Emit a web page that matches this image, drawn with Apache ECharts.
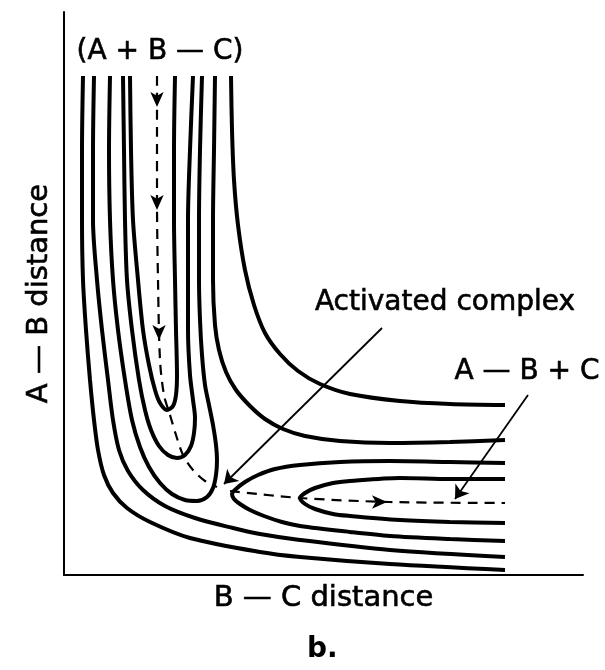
<!DOCTYPE html>
<html>
<head>
<meta charset="utf-8">
<title>A + B—C reaction surface</title>
<script src="https://cdn.jsdelivr.net/npm/echarts@6/dist/echarts.min.js"></script>
<style>
  html, body { margin: 0; padding: 0; background: #fff; }
  #chart { width: 605px; height: 670px; }
</style>
</head>
<body>
<div id="chart"></div>
<script>
// axis ranges (B—C distance, A—B distance), arbitrary units
const xMax = 519;
const yMax = 563;

// contour lines, points are [B—C distance, A—B distance]
// two outer contours that run from the top round to the right
const contourOuter = [[19,499],[18,425],[18,355],[19,295],[22,245],[26,195],[30,155],[34,125],[40,100],[49,82],[63,67],[86,53],[126,37],[196,23],[236,18],[326,11],[441,5]];
const contourSecond = [[30,499],[29,425],[29,355],[33,295],[38,245],[44,195],[49,155],[55,125],[64,104],[79,85],[101,69],[131,57],[169,47],[196,41],[236,35],[326,25],[441,18]];

// reactant valley (A + B—C), closed at the bottom
const valleyA3 = [[46,499],[45,425],[46,355],[49,295],[54,245],[61,195],[68,155],[76,128],[85,108],[96,92],[108,81],[121,75],[133,74],[143,78],[149,87],[152,100],[153,115],[152,130],[149,150],[145,170],[141,190],[138,220],[136,255],[135,295],[135,355],[136,425],[138,499]];
const valleyA2 = [[59,499],[60,425],[61,355],[63,295],[68,245],[75,195],[81,165],[87,145],[95,129],[104,120],[113,117],[121,120],[127,129],[130,142],[131,157],[129,175],[126,200],[124,245],[124,295],[124,355],[126,425],[129,499]];
const valleyA1 = [[66,499],[67,425],[69,355],[74,295],[79,245],[85,210],[91,185],[96,172],[103,165],[109,169],[112,180],[113,200],[112,245],[111,295],[110,355],[110,425],[111,499]];

// product valley (A—B + C), closed on the left
const valleyC2 = [[441,112],[386,113],[326,114],[276,113],[236,110],[211,106],[194,100],[181,93],[172,86],[168,81],[170,76],[176,71],[186,65],[200,59],[218,53],[236,49],[286,43],[326,39],[386,36],[441,34]];
const valleyC1 = [[441,96],[386,96],[336,97],[286,94],[269,92],[251,87],[241,82],[236,77],[241,71],[251,66],[269,61],[286,59],[336,55],[386,53],[441,52]];

// high ground in the upper right
const plateauInner = [[151,499],[150,425],[149,355],[149,295],[151,250],[155,225],[162,203],[172,185],[186,169],[201,156],[219,146],[241,139],[276,134],[326,132],[386,133],[441,135]];
const plateauOuter = [[167,499],[168,445],[170,395],[174,350],[181,305],[190,270],[201,242],[216,221],[234,204],[256,191],[286,181],[336,174],[386,171],[441,170]];

// reaction path (dashed), break at the saddle point
const reactionPath = [[93,499],[93,375],[94,295],[96,215],[100,180],[106,160],[112,140],[119,120],[129,105],[141,94],[153,88],null,[166,84],[236,77],[326,73],[441,72]];
const pathArrowsDown = [[93,468],[93,365],[95,235]];
const pathArrowsRight = [[323,73]];

// labels and the arrows that point from them
const labelTexts = ['(A + B — C)', 'Activated complex', 'A — B + C'];
const labelPoints = [[96,523],[381,272],[463,203]];
const pointerLines = [
  [[318,247],[160,91]],
  [[464,180],[391,76]]
];

const contours = [contourOuter, contourSecond, valleyA3, valleyA2, valleyA1, valleyC2, valleyC1, plateauInner, plateauOuter];

const FONT = '"DejaVu Sans", sans-serif';
// scanned lettering is heavier than the font, thicken it a bit
const inkText = { color: '#000', fontFamily: FONT, textBorderColor: '#000', textBorderWidth: 0.6 };

const chart = echarts.init(document.getElementById('chart'), null, { renderer: 'canvas' });

const series = contours.map(c => ({
  type: 'line',
  data: c,
  smooth: 0.3,
  showSymbol: false,
  silent: true,
  lineStyle: { color: '#000', width: 4 }
}));

// reaction coordinate
series.push({
  type: 'line',
  data: reactionPath,
  smooth: 0.3,
  showSymbol: false,
  connectNulls: false,
  silent: true,
  lineStyle: { color: '#000', width: 2.2, type: [10, 7] }
});
series.push({
  type: 'scatter',
  data: pathArrowsDown,
  symbol: 'arrow',
  symbolSize: [10, 15],
  symbolRotate: 180,
  silent: true,
  itemStyle: { color: '#000', opacity: 1 }
});
series.push({
  type: 'scatter',
  data: pathArrowsRight,
  symbol: 'arrow',
  symbolSize: [10, 15],
  symbolRotate: -90,
  silent: true,
  itemStyle: { color: '#000', opacity: 1 }
});

// pointers
series.push({
  type: 'lines',
  coordinateSystem: 'cartesian2d',
  data: pointerLines.map(p => ({ coords: p })),
  symbol: ['none', 'arrow'],
  symbolSize: 13,
  silent: true,
  lineStyle: { color: '#000', width: 1.8, opacity: 1 }
});

// text labels
series.push({
  type: 'scatter',
  data: labelPoints.map((p, i) => ({ value: p, name: labelTexts[i] })),
  symbolSize: 0,
  silent: true,
  itemStyle: { color: '#000', opacity: 1 },
  label: Object.assign({
    show: true,
    position: 'inside',
    formatter: '{b}',
    fontSize: 28
  }, inkText)
});

const option = {
  animation: false,
  backgroundColor: '#fff',
  title: {
    text: 'b.',
    left: 307,
    top: 636,
    padding: 0,
    textStyle: { fontFamily: FONT, fontWeight: 'bold', fontSize: 28, color: '#000' }
  },
  grid: { left: 64, right: 22, top: 12, bottom: 95 },
  xAxis: {
    type: 'value',
    min: 0,
    max: xMax,
    name: 'B — C distance',
    nameLocation: 'middle',
    nameGap: 9,
    nameTextStyle: Object.assign({ fontSize: 29, verticalAlign: 'top' }, inkText),
    axisLine: { lineStyle: { color: '#000', width: 2 } },
    axisTick: { show: false },
    axisLabel: { show: false },
    splitLine: { show: false }
  },
  yAxis: {
    type: 'value',
    min: 0,
    max: yMax,
    name: 'A — B distance',
    nameLocation: 'middle',
    nameGap: 10,
    nameTextStyle: Object.assign({ fontSize: 29 }, inkText),
    axisLine: { show: true, lineStyle: { color: '#000', width: 2 } },
    axisTick: { show: false },
    axisLabel: { show: false },
    splitLine: { show: false }
  },
  series: series
};

chart.setOption(option);
</script>
</body>
</html>
